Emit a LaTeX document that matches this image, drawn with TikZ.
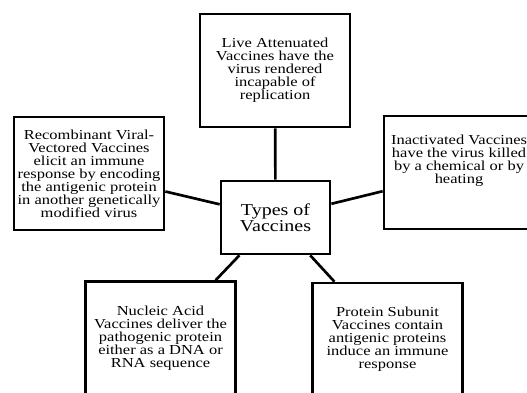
\documentclass[tikz,border=0pt]{standalone}
\usepackage{fontspec}
\setmainfont{Liberation Serif}[FakeStretch=1.2]
\begin{document}
\begin{tikzpicture}[x=0.75pt,y=-0.75pt,
        box/.style={rectangle,draw,line width=2pt,align=center,inner sep=0pt,
            minimum width=112.5pt,minimum height=84.75pt,
            font=\fontsize{10.3}{9.75}\selectfont},
        hub/.style={box,minimum width=81.75pt,minimum height=54.75pt,
            font=\fontsize{12.5}{12}\selectfont}]
            \clip (0,0) rectangle (527,392);
            \node(types)[hub] at (275.5,217.5){Types of\\Vaccines};
            \node(live)[box] at (275,70.5){Live Attenuated\\Vaccines have the\\virus rendered\\incapable of\\replication};
            \node(recomb)[box] at (89,173.5){Recombinant Viral-\\Vectored Vaccines\\elicit an immune\\response by encoding\\the antigenic protein\\in another genetically\\modified virus};
            \node(inact)[box] at (459,172.5){Inactivated Vaccines\\have the virus killed\\by a chemical or by\\heating\\[9.75pt]};
            \node(nucleic)[box] at (160.5,338){Nucleic Acid\\Vaccines deliver the\\pathogenic protein\\either as a DNA or\\RNA sequence};
            \node(protein)[box] at (387.5,339.5){Protein Subunit\\Vaccines contain\\antigenic proteins\\induce an immune\\response};
            \draw[line width=2pt] (types) -- (live);
            \draw[line width=2pt] (types) -- (recomb);
            \draw[line width=2pt] (types) -- (inact);
            \draw[line width=2pt] (types) -- (nucleic);
            \draw[line width=2pt] (types) -- (protein);
        \end{tikzpicture}
\end{document}
